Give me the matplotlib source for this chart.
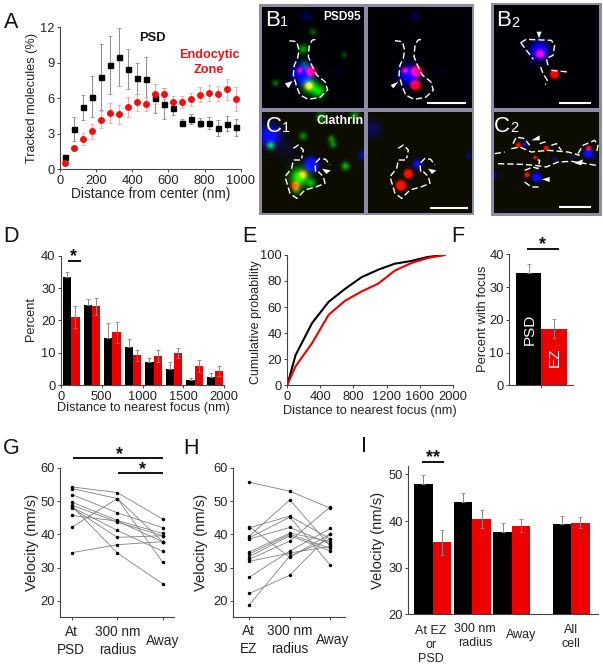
import numpy as np
import matplotlib
matplotlib.use('Agg')
import matplotlib.pyplot as plt

plt.rcParams['font.family'] = ['Liberation Sans', 'DejaVu Sans']
plt.rcParams['text.color'] = '#222222'
plt.rcParams['axes.labelcolor'] = '#222222'
plt.rcParams['xtick.labelcolor'] = '#222222'
plt.rcParams['ytick.labelcolor'] = '#222222'

W, H = 603, 668
TICK_FS = 9.3

# panel A
a_dist = [25, 75, 125, 175, 225, 275, 325, 375, 425, 475, 525, 575, 625, 675, 725, 775, 825, 875, 925, 975]
a_psd = [1.0, 3.4, 5.25, 6.15, 7.8, 8.8, 9.5, 8.5, 7.7, 7.6, 6.0, 5.55, 5.2, 3.95, 4.25, 3.95, 3.9, 3.5, 3.85, 3.55]
a_psd_err = [0.1, 1.05, 1.05, 1.7, 2.75, 2.45, 2.45, 1.7, 1.3, 1.9, 1.2, 1.3, 0.6, 0.3, 0.4, 0.4, 0.5, 0.65, 0.65, 0.7]
a_ez = [0.55, 1.8, 2.55, 3.2, 4.2, 4.75, 4.65, 5.25, 5.65, 5.5, 6.35, 6.4, 5.7, 5.7, 5.9, 6.3, 6.45, 6.4, 6.75, 5.95]
a_ez_err = [0.1, 0.2, 0.5, 0.65, 0.75, 0.85, 0.8, 0.85, 0.75, 0.6, 0.85, 0.45, 0.5, 0.5, 0.55, 0.65, 0.65, 0.6, 0.9, 1.0]

# panel D
d_bins = [127, 379, 631, 883, 1135, 1387, 1639, 1891]
d_psd = [33.5, 24.6, 14.5, 11.8, 7.0, 5.0, 1.4, 2.4]
d_psd_err = [1.5, 2.0, 4.7, 2.3, 1.5, 2.0, 0.8, 1.3]
d_ez = [21.0, 24.3, 16.3, 9.2, 9.0, 9.9, 5.9, 4.3]
d_ez_err = [3.3, 2.5, 3.3, 1.7, 1.8, 1.5, 1.8, 1.5]

# panel E
e_dist = [0, 100, 300, 500, 700, 900, 1100, 1300, 1500, 1700, 1900]
e_psd = [0, 23, 47.7, 64, 74, 83, 88.7, 93.3, 95.4, 98.5, 100]
e_ez = [0, 14.4, 32.3, 54, 64.9, 72, 78, 88, 93.8, 97.7, 100]

# panel F
f_vals = [34.4, 17.3]
f_err = [2.7, 2.9]

# panel G, one row per cell: at PSD, 300 nm radius, away
g_cells = [
    [54.3, 52.6, 44.6], [53.8, 50.8, 37.8], [52.0, 46.5, 42.0], [49.7, 44.2, 40.3],
    [48.8, 43.7, 39.6], [48.2, 41.2, 34.9], [48.5, 34.4, 25.1], [45.7, 44.0, 37.8],
    [42.2, 50.8, 31.6], [34.5, 36.9, 37.8], [48.0, 39.1, 39.6],
]

# panel H, one row per cell: at EZ, 300 nm radius, away
h_cells = [
    [55.7, 53.0, 47.9], [42.3, 33.1, 40.2], [42.0, 45.5, 38.6], [39.5, 50.4, 36.4],
    [39.0, 45.2, 30.7], [38.6, 42.1, 37.1], [34.7, 40.4, 37.8], [34.1, 40.0, 35.8],
    [33.3, 39.6, 35.0], [32.5, 38.0, 48.3], [31.9, 34.4, 36.4], [27.1, 35.0, 41.8],
    [22.2, 27.7, 40.2], [18.8, 33.5, 38.6],
]

# panel I
i_pos = [0, 1, 2, 3.49]
i_psd = [47.9, 44.1, 37.7, 39.3]
i_psd_err = [1.9, 2.0, 1.8, 1.7]
i_ez = [35.4, 40.4, 39.0, 39.6]
i_ez_err = [2.6, 1.9, 1.4, 1.2]

# microscopy spots, x, y, sigma, amplitude, channel (coordinates in 3x crop)
b1_left = [(175, 97, 8, .35, 'g'), (145, 148, 10, .6, 'g'), (268, 165, 6, .3, 'g'), (62, 250, 7, .45, 'g'),
           (165, 258, 15, 1.0, 'g'), (192, 275, 13, .8, 'g'), (150, 195, 10, .35, 'g'),
           (155, 50, 9, .4, 'b'), (145, 222, 19, 1.6, 'b'), (240, 215, 8, .12, 'b'),
           (135, 212, 6, 1.0, 'r'), (168, 215, 9, 1.8, 'r'), (162, 258, 7, 1.8, 'r')]
b1_right = [(480, 50, 9, .3, 'b'), (462, 225, 18, 1.5, 'b'), (560, 215, 8, .12, 'b'),
            (450, 212, 6, 1.2, 'r'), (484, 215, 9, 3, 'r'), (481, 256, 8, 3, 'r')]
c1_left = [(45, 405, 22, 1.2, 'b'), (325, 465, 10, .7, 'b'), (170, 492, 13, 2, 'b'), (100, 450, 20, .15, 'b'),
           (48, 435, 8, .8, 'g'), (145, 407, 8, .5, 'g'), (230, 415, 7, .5, 'g'), (235, 432, 7, .5, 'g'),
           (272, 497, 8, .7, 'g'), (200, 350, 10, .5, 'g'), (300, 345, 9, .5, 'g'),
           (135, 530, 18, 1.1, 'g'), (170, 548, 9, .6, 'g'), (125, 570, 8, .5, 'g'),
           (145, 522, 7, 1.6, 'r'), (122, 556, 8, 1.6, 'r')]
c1_right = [(355, 385, 18, .35, 'b'), (640, 465, 7, .4, 'b'), (487, 492, 9, 1.2, 'b'),
            (460, 520, 7, 3, 'r'), (438, 555, 8, 3, 'r')]
b2_spots = [(852, 155, 17, 1.7, 'b'), (854, 163, 8, 1.6, 'r'), (897, 224, 7, 3, 'r')]
c2_spots = [(809, 431, 5, 1, 'b'), (997, 459, 8, 2, 'b'), (844, 531, 8, 2, 'b'), (899, 476, 5, .6, 'b'),
            (719, 526, 6, .5, 'b'), (949, 471, 5, .4, 'b'), (1015, 470, 5, .4, 'b'),
            (789, 434, 4, 2.5, 'r'), (872, 443, 4, 2.5, 'r'), (839, 471, 3, 2, 'r'),
            (815, 523, 4, 2.5, 'r'), (999, 443, 4, 2.5, 'r')]

# dashed cell outlines in the same crop coordinates
b1_outline = [[(103, 122), (125, 125), (132, 150), (128, 175), (118, 195), (115, 225), (125, 260), (135, 285),
               (160, 298), (195, 292), (218, 270), (210, 245), (185, 225), (170, 195), (160, 170), (163, 135),
               (172, 120), (185, 118)]]
c1_outline = [[(115, 445), (130, 435), (145, 450), (140, 475)],
              [(135, 480), (115, 480), (110, 505), (90, 530), (105, 580), (125, 595), (150, 570), (185, 560),
               (210, 550), (205, 530), (190, 515)],
              [(182, 515), (180, 490), (195, 475), (212, 478), (225, 495)]]
b2_outline = [[(797, 128), (814, 118), (889, 121), (899, 136), (894, 166), (874, 176), (879, 196)],
              [(797, 128), (835, 178)],
              [(857, 201), (864, 221), (877, 241), (871, 254)],
              [(889, 211), (939, 216)]]
c2_outline = [[(719, 461), (749, 456)],
              [(769, 446), (794, 441), (829, 456), (879, 451), (939, 456), (974, 466)],
              [(729, 491), (799, 493), (839, 496), (874, 501), (909, 486), (949, 484), (1024, 496)],
              [(774, 431), (784, 411), (809, 416), (824, 436)],
              [(854, 431), (869, 426), (879, 431)],
              [(889, 436), (904, 431), (919, 451)],
              [(969, 461), (984, 436), (1019, 421), (1029, 436), (1024, 461)],
              [(809, 511), (834, 501), (849, 506), (854, 481), (839, 476)],
              [(809, 546), (829, 561), (859, 561)]]


def px_axes(left, top, right, bottom):
    return fig.add_axes([left / W, 1 - bottom / H, (right - left) / W, (bottom - top) / H])


def style_ax(ax, tick_len=2.5):
    ax.spines['top'].set_visible(False)
    ax.spines['right'].set_visible(False)
    ax.spines['left'].set_color('#444444')
    ax.spines['bottom'].set_color('#444444')
    ax.spines['left'].set_linewidth(0.8)
    ax.spines['bottom'].set_linewidth(0.8)
    ax.tick_params(labelsize=TICK_FS, length=tick_len, width=0.7, color='#444444', pad=1.5)


def set_xlab(ax, text, pos, fs):
    ax.set_xlabel(text, fontsize=fs, va='center', ha='center')
    ax.xaxis.set_label_coords(pos[0], pos[1], transform=ov.transData)


def set_ylab(ax, text, pos, fs):
    ax.set_ylabel(text, fontsize=fs, va='center', ha='center')
    ax.yaxis.set_label_coords(pos[0], pos[1], transform=ov.transData)


def z2(pts):
    return [(x / 3 + 255, y / 3) for x, y in pts]


def draw_panel(left, top, right, bottom, spots, bg):
    # panel edges are crop coords too
    xs = np.arange(left, right)
    ys = np.arange(top, bottom)
    xx, yy = np.meshgrid(xs, ys)
    img = np.zeros(xx.shape + (3,))
    img[:, :] = bg
    for x, y, s, amp, ch in spots:
        idx = 'rgb'.index(ch)
        img[:, :, idx] += amp * np.exp(-((xx - x) ** 2 + (yy - y) ** 2) / (2 * s ** 2))
    ov.imshow(np.clip(img, 0, 1), extent=(left / 3 + 255, right / 3 + 255, bottom / 3, top / 3),
              aspect='auto', interpolation='bilinear', zorder=1)


def draw_outline(lines, shift=0):
    for line in lines:
        pts = z2([(x + shift, y) for x, y in line])
        ov.plot([p[0] for p in pts], [p[1] for p in pts], color='white', lw=1.0,
                dashes=(4.5, 2.2), zorder=3, solid_capstyle='butt')


def draw_arrow(pts):
    ov.fill([p[0] for p in z2(pts)], [p[1] for p in z2(pts)], color='white', lw=0, zorder=4)


def sig_bar(x0, x1, y, star_x, star_y, stars='*'):
    ov.plot([x0, x1], [y, y], color='#111111', lw=1.4, solid_capstyle='butt', zorder=6)
    ov.text(star_x, star_y, stars, fontsize=13, fontweight='bold', color='#111111',
            ha='center', va='center', zorder=6)


fig = plt.figure(figsize=(W / 100, H / 100), dpi=100)

ov = fig.add_axes([0, 0, 1, 1], zorder=10)
ov.patch.set_visible(False)
ov.axis('off')

# A
ax = px_axes(60, 27.3, 240.7, 169.3)
ax.errorbar(a_dist, a_psd, yerr=a_psd_err, fmt='none', ecolor='#8c8c8c', elinewidth=0.7, capsize=1.5, capthick=0.6)
ax.errorbar(a_dist, a_ez, yerr=a_ez_err, fmt='none', ecolor='#f3a6a6', elinewidth=0.7, capsize=1.5, capthick=0.6)
ax.plot(a_dist, a_psd, 's', color='black', ms=3.6)
ax.plot(a_dist, a_ez, 'o', color='#ee1111', ms=4.0)
ax.set_xlim(0, 1000)
ax.set_ylim(0, 12)
ax.set_xticks([0, 200, 400, 600, 800, 1000])
ax.set_yticks([0, 3, 6, 9, 12])
style_ax(ax)
set_xlab(ax, 'Distance from center (nm)', (150.7, 194), 9.9)
set_ylab(ax, 'Tracked molecules (%)', (32.3, 98), 9.2)
ov.text(152, 38, 'PSD', fontsize=9.3, fontweight='bold', color='#111111', ha='center', va='center')
ov.text(209, 62.5, 'Endocytic\nZone', fontsize=9.1, fontweight='bold', color='#ee1111', ha='center', va='center',
        linespacing=1.25)

# D
ax = px_axes(61, 255.7, 224, 385)
d_x = np.array(d_bins)
ax.bar(d_x - 50, d_psd, width=100, color='black')
ax.bar(d_x + 50, d_ez, width=100, color='#ee0000')
ax.errorbar(d_x - 50, d_psd, yerr=[[0] * 8, d_psd_err], fmt='none', ecolor='#888888', elinewidth=0.7, capsize=1.5, capthick=0.6)
ax.errorbar(d_x + 50, d_ez, yerr=d_ez_err, fmt='none', ecolor='#888888', elinewidth=0.7, capsize=1.5, capthick=0.6)
ax.set_xlim(0, 2000)
ax.set_ylim(0, 40)
ax.set_xticks([0, 500, 1000, 1500, 2000])
ax.set_yticks([0, 10, 20, 30, 40])
style_ax(ax)
set_xlab(ax, 'Distance to nearest focus (nm)', (143, 408), 9.1)
set_ylab(ax, 'Percent', (31, 319), 9.2)
sig_bar(67.7, 81, 261, 74, 257)

# E
ax = px_axes(287.3, 255, 452.7, 385)
ax.plot(e_dist, e_psd, color='black', lw=1.5)
ax.plot(e_dist, e_ez, color='#ee0000', lw=1.5)
ax.set_xlim(0, 2000)
ax.set_ylim(0, 100)
ax.set_xticks([0, 400, 800, 1200, 1600, 2000])
ax.set_yticks([0, 20, 40, 60, 80, 100])
style_ax(ax)
set_xlab(ax, 'Distance to nearest focus (nm)', (370, 410.7), 9.2)
set_ylab(ax, 'Cumulative probability', (256, 321.7), 9.0)

# F
ax = px_axes(509.3, 254.3, 573, 385.3)
ax.bar([-0.5, 0.5], f_vals, width=1, color=['black', '#ee0000'])
ax.errorbar([-0.5], f_vals[:1], yerr=[[0], f_err[:1]], fmt='none', ecolor='#888888', elinewidth=0.7, capsize=1.5, capthick=0.6)
ax.errorbar([0.5], f_vals[1:], yerr=f_err[1:], fmt='none', ecolor='#888888', elinewidth=0.7, capsize=1.5, capthick=0.6)
ax.set_xlim(-1.26, 1.234)
ax.set_ylim(0, 40)
ax.set_xticks([0])
ax.set_xticklabels([''])
ax.set_yticks([0, 10, 20, 30, 40])
style_ax(ax)
set_ylab(ax, 'Percent with focus', (483.3, 319), 9.4)
ax.text(-0.45, 17, 'PSD', color='white', rotation=90, fontsize=11, ha='center', va='center')
ax.text(0.52, 8.7, 'EZ', color='white', rotation=90, fontsize=11, ha='center', va='center')
sig_bar(526.7, 559.3, 249, 542.3, 245)

# G
ax = px_axes(60.3, 468, 174, 616.7)
for row in g_cells:
    ax.plot([0, 1, 2], row, '-o', color='#808080', lw=0.6, ms=2.5, mfc='black', mec='black', mew=0)
ax.set_xlim(-0.257, 2.25)
ax.set_ylim(15.2, 60)
ax.set_xticks([0, 1, 2])
ax.set_xticklabels([])
ax.set_yticks([20, 30, 40, 50, 60])
style_ax(ax)
set_ylab(ax, 'Velocity (nm/s)', (31.7, 542.7), 10.6)
sig_bar(73.3, 162.7, 458, 120, 455)
sig_bar(118.3, 162.7, 473.3, 142.7, 470)
for x, y, s in [(71, 641, 'At\nPSD'), (117.5, 641, '300 nm\nradius'), (163, 641, 'Away')]:
    ov.text(x, y, s, fontsize=9.8, ha='center', va='center', linespacing=1.3)

# H
ax = px_axes(233.3, 468, 345, 616.7)
for row in h_cells:
    ax.plot([0, 1, 2], row, '-o', color='#808080', lw=0.6, ms=2.5, mfc='black', mec='black', mew=0)
ax.set_xlim(-0.395, 2.36)
ax.set_ylim(15.2, 60)
ax.set_xticks([0, 1, 2])
ax.set_xticklabels([])
ax.set_yticks([20, 30, 40, 50, 60])
style_ax(ax)
set_ylab(ax, 'Velocity (nm/s)', (201, 542.7), 10.6)
for x, y, s in [(248.7, 640, 'At\nEZ'), (290, 640, '300 nm\nradius'), (333, 640, 'Away')]:
    ov.text(x, y, s, fontsize=9.8, ha='center', va='center', linespacing=1.3)

# I
ax = px_axes(408.3, 466, 598.3, 614.3)
i_x = np.array(i_pos)
ax.bar(i_x - 0.233, i_psd, width=0.466, color='black')
ax.bar(i_x + 0.233, i_ez, width=0.466, color='#ee0000')
ax.errorbar(i_x - 0.233, i_psd, yerr=[[0] * 4, i_psd_err], fmt='none', ecolor='#888888', elinewidth=0.7, capsize=1.5, capthick=0.6)
ax.errorbar(i_x + 0.233, i_ez, yerr=i_ez_err, fmt='none', ecolor='#888888', elinewidth=0.7, capsize=1.5, capthick=0.6)
ax.set_xlim(-0.613, 4.176)
ax.set_ylim(20, 51.8)
ax.set_xticks([])
ax.set_yticks([20, 30, 40, 50])
style_ax(ax)
set_ylab(ax, 'Velocity (nm/s)', (377.7, 540), 10.6)
sig_bar(421.7, 444, 461.7, 432.7, 458, '**')
for x, y, s in [(431, 645, 'At EZ\nor\nPSD'), (475, 636, '300 nm\nradius'), (521, 635, 'Away'), (571, 636.7, 'All\ncell')]:
    ov.text(x, y, s, fontsize=9.0, ha='center', va='center', linespacing=1.25)

# panel letters
for x, y, s in [(11, 22, 'A'), (11, 237, 'D'), (249, 237, 'E'), (458, 237, 'F'), (11, 449, 'G'), (190.7, 449, 'H'), (364, 447, 'I')]:
    ov.text(x, y, s, fontsize=15.5, color='#111111', ha='center', va='center')

# image frames
frame = '#8c8ca8'
ov.fill([259, 473.7, 473.7, 259], [4, 4, 215, 215], color=frame, lw=0, zorder=0)
ov.fill([490.7, 601.7, 601.7, 490.7], [3.3, 3.3, 216, 216], color=frame, lw=0, zorder=0)

black_bg = (0, 0, 0.02)
olive_bg = (0.05, 0.05, 0)
draw_panel(22, 22, 328, 325, b1_left, black_bg)
draw_panel(340, 22, 650, 325, b1_right, black_bg)
draw_panel(22, 335, 328, 638, c1_left, olive_bg)
draw_panel(340, 335, 650, 638, c1_right, olive_bg)
draw_panel(717, 18, 1030, 325, b2_spots, black_bg)
draw_panel(717, 335, 1030, 638, c2_spots, olive_bg)

draw_outline(b1_outline)
draw_outline(b1_outline, 317)
draw_outline(c1_outline)
draw_outline(c1_outline, 315)
draw_outline(b2_outline)
draw_outline(c2_outline)

draw_arrow([(90, 250), (113, 243), (100, 265)])
draw_arrow([(407, 255), (430, 245), (415, 265)])
draw_arrow([(845, 95), (860, 95), (852, 115)])
draw_arrow([(201, 506), (227, 511), (214, 522)])
draw_arrow([(519, 506), (544, 511), (531, 522)])
draw_arrow([(829, 421), (854, 406), (854, 421)])
draw_arrow([(957, 489), (984, 478), (979, 496)])
draw_arrow([(861, 538), (884, 531), (884, 546)])

for x0, x1, y in [(517, 633, 309), (525, 638, 625), (913, 1007, 308), (913, 1007, 621)]:
    pts = z2([(x0, y), (x1, y)])
    ov.plot([pts[0][0], pts[1][0]], [pts[0][1], pts[1][1]], color='white', lw=1.5, solid_capstyle='butt', zorder=4)

for x, y, big, small in [(52, 60, 'B', '1'), (58, 378, 'C', '1'), (745, 62, 'B', '2'), (742, 378, 'C', '2')]:
    p = z2([(x, y)])[0]
    ov.text(p[0], p[1], big, color='white', fontsize=16, ha='center', va='center', zorder=5)
    ov.text(p[0] + 12, p[1] + 2.5, small, color='white', fontsize=10.5, ha='center', va='center', zorder=5)

p = z2([(262, 52)])[0]
ov.text(p[0], p[1], 'PSD95', color='white', fontsize=8.6, fontweight='bold', ha='center', va='center', zorder=5)
p = z2([(255, 362)])[0]
ov.text(p[0], p[1], 'Clathrin', color='white', fontsize=8.9, fontweight='bold', ha='center', va='center', zorder=5)

ov.set_xlim(0, W)
ov.set_ylim(H, 0)

fig.savefig('out.png', dpi=100)
